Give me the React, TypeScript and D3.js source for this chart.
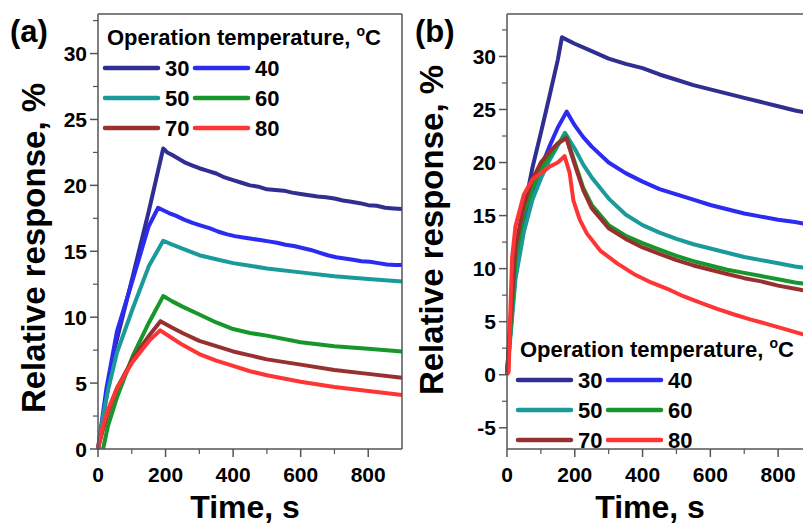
import React, { useEffect, useRef } from 'react';
import * as d3 from 'd3';

// temperatures (°C) shown in the legend
const temps = ['30', '40', '50', '60', '70', '80'];
const colors = ['#2f2f91', '#2b2bf2', '#1b9a9a', '#17962c', '#983030', '#ff3535'];

// panel (a): [time s, relative response %]
const a30 = [[0, 0], [25, 4.0], [50, 7.7], [100, 12.8], [150, 18.0], [193, 22.8], [205, 22.5], [220, 22.3], [240, 22.0], [260, 21.7], [280, 21.5], [300, 21.3], [325, 21.1], [350, 20.9], [375, 20.6], [400, 20.4], [425, 20.2], [450, 20.0], [475, 19.9], [500, 19.7], [525, 19.65], [550, 19.6], [575, 19.45], [600, 19.35], [625, 19.25], [650, 19.15], [675, 19.1], [700, 19.0], [725, 18.85], [750, 18.75], [775, 18.65], [800, 18.5], [825, 18.45], [850, 18.3], [875, 18.25], [900, 18.2]];
const a40 = [[0, 0], [25, 4.6], [56, 8.9], [100, 12.6], [150, 16.9], [178, 18.3], [190, 18.15], [210, 17.9], [230, 17.7], [255, 17.4], [280, 17.15], [305, 16.95], [330, 16.75], [355, 16.5], [380, 16.3], [405, 16.15], [430, 16.05], [455, 15.95], [480, 15.85], [505, 15.75], [530, 15.65], [555, 15.5], [580, 15.4], [605, 15.25], [630, 15.1], [655, 14.9], [680, 14.7], [705, 14.55], [730, 14.45], [755, 14.35], [780, 14.25], [805, 14.2], [830, 14.1], [855, 14.0], [880, 13.95], [900, 13.95]];
const a50 = [[0, 0], [15, 2.5], [30, 4.5], [56, 7.3], [102, 10.6], [151, 13.9], [193, 15.8], [220, 15.5], [250, 15.2], [300, 14.7], [350, 14.4], [400, 14.1], [450, 13.9], [500, 13.7], [600, 13.4], [700, 13.1], [800, 12.9], [900, 12.7]];
const a60 = [[15, 0], [30, 1.8], [56, 3.9], [102, 7.0], [151, 9.6], [193, 11.6], [220, 11.2], [250, 10.8], [300, 10.2], [350, 9.6], [400, 9.1], [450, 8.8], [500, 8.6], [600, 8.1], [700, 7.8], [800, 7.6], [900, 7.4]];
const a70 = [[0, 0], [15, 1.5], [30, 2.8], [56, 4.6], [102, 6.8], [151, 8.6], [185, 9.7], [220, 9.2], [250, 8.8], [300, 8.2], [350, 7.8], [400, 7.4], [450, 7.1], [500, 6.8], [600, 6.4], [700, 6.0], [800, 5.7], [900, 5.4]];
const a80 = [[0, 0], [15, 1.8], [30, 3.0], [56, 4.6], [102, 6.6], [151, 8.2], [184, 9.0], [220, 8.4], [250, 7.9], [300, 7.2], [350, 6.7], [400, 6.3], [450, 5.9], [500, 5.6], [600, 5.1], [700, 4.7], [800, 4.4], [900, 4.1]];

// panel (b)
const b30 = [[0, 0], [10, 5.0], [25, 10.5], [50, 15.5], [75, 19.5], [100, 22.8], [125, 26.2], [150, 29.7], [162, 31.8], [200, 31.2], [250, 30.5], [300, 29.8], [350, 29.3], [400, 28.9], [450, 28.3], [500, 27.8], [550, 27.3], [600, 26.9], [650, 26.5], [700, 26.1], [750, 25.7], [800, 25.3], [850, 24.9], [900, 24.6]];
const b40 = [[0, 0], [10, 4.0], [25, 9.5], [50, 14.0], [75, 17.0], [100, 19.5], [125, 21.5], [150, 23.3], [176, 24.8], [200, 23.5], [225, 22.4], [250, 21.5], [300, 20.0], [350, 19.0], [400, 18.2], [450, 17.5], [500, 17.0], [550, 16.5], [600, 16.0], [650, 15.6], [700, 15.2], [750, 14.9], [800, 14.6], [850, 14.4], [900, 14.1]];
const b50 = [[0, 0], [10, 3.5], [25, 9.0], [50, 13.5], [75, 16.5], [100, 18.5], [125, 20.2], [150, 21.6], [171, 22.8], [200, 21.3], [225, 19.8], [250, 18.6], [300, 16.6], [350, 15.1], [400, 14.1], [450, 13.4], [500, 12.8], [550, 12.3], [600, 11.9], [650, 11.5], [700, 11.1], [750, 10.8], [800, 10.5], [850, 10.2], [900, 10.0]];
const b60 = [[0, 0], [10, 4.0], [25, 11.0], [50, 15.2], [75, 17.6], [100, 19.3], [125, 20.6], [150, 21.8], [175, 22.5], [200, 20.0], [225, 17.6], [250, 16.0], [300, 14.1], [350, 13.1], [400, 12.4], [450, 11.8], [500, 11.2], [550, 10.7], [600, 10.3], [650, 9.9], [700, 9.6], [750, 9.3], [800, 9.0], [850, 8.7], [900, 8.5]];
const b70 = [[0, 0], [10, 5.0], [25, 12.0], [50, 16.0], [75, 18.4], [100, 20.0], [125, 21.0], [150, 21.8], [175, 22.3], [200, 19.8], [225, 17.4], [250, 15.7], [300, 13.8], [350, 12.8], [400, 12.0], [450, 11.4], [500, 10.8], [550, 10.3], [600, 9.9], [650, 9.5], [700, 9.1], [750, 8.8], [800, 8.4], [850, 8.1], [900, 7.8]];
const b80 = [[0, 0], [5, 0.3], [10, 6.0], [15, 11.0], [25, 14.0], [50, 17.0], [75, 18.4], [100, 19.0], [125, 19.6], [150, 20.0], [170, 20.6], [185, 19.0], [196, 16.4], [215, 14.6], [236, 13.3], [275, 11.7], [325, 10.5], [374, 9.5], [425, 8.7], [473, 8.1], [520, 7.4], [570, 6.8], [620, 6.2], [668, 5.7], [720, 5.2], [766, 4.8], [820, 4.3], [874, 3.8], [900, 3.6]];

const seriesA = [a30, a40, a50, a60, a70, a80];
const seriesB = [b30, b40, b50, b60, b70, b80];

const xTicks = [0, 200, 400, 600, 800];
const xMinor = [100, 300, 500, 700];
const yTicksA = [0, 5, 10, 15, 20, 25, 30];
const yTicksB = [-5, 0, 5, 10, 15, 20, 25, 30];

const FONT = '"Liberation Sans", Arial, sans-serif';

const App = () => {
  const ref = useRef<SVGSVGElement | null>(null);

  useEffect(() => {
    const svg = d3.select(ref.current);
    svg.selectAll('*').remove();

    const panel = (
      opt: { left: number; right: number; top: number; bottom: number; yDomain: [number, number]; yTicks: number[]; label: string; labelX: number; ylabX: number; ylabY: number; legX: number; legY: number; showRight: boolean },
      series: number[][][]
    ) => {
      const x = d3.scaleLinear().domain([0, 900]).range([opt.left, opt.right]);
      const y = d3.scaleLinear().domain(opt.yDomain).range([opt.bottom, opt.top]);
      const g = svg.append('g');

      // curves
      const line = d3.line<number[]>().x(d => x(d[0])).y(d => y(d[1]));
      series.forEach((s, i) => {
        g.append('path')
          .datum(s)
          .attr('fill', 'none')
          .attr('stroke', colors[i])
          .attr('stroke-width', 4)
          .attr('stroke-linejoin', 'round')
          .attr('d', line);
      });

      // frame
      const frame = '#555';
      g.append('line').attr('x1', opt.left).attr('x2', opt.left).attr('y1', opt.top).attr('y2', opt.bottom).attr('stroke', frame).attr('stroke-width', 1.5);
      g.append('line').attr('x1', opt.left).attr('x2', opt.right).attr('y1', opt.bottom).attr('y2', opt.bottom).attr('stroke', frame).attr('stroke-width', 1.5);
      g.append('line').attr('x1', opt.left).attr('x2', opt.right).attr('y1', opt.top).attr('y2', opt.top).attr('stroke', frame).attr('stroke-width', 1.5);
      if (opt.showRight) {
        g.append('line').attr('x1', opt.right).attr('x2', opt.right).attr('y1', opt.top).attr('y2', opt.bottom).attr('stroke', frame).attr('stroke-width', 1.5);
      }

      // y ticks
      const yMinor: number[] = [];
      for (let v = opt.yDomain[0]; v <= opt.yDomain[1]; v += 0.5) {
        if (Math.abs(v % 5) === 2.5) yMinor.push(v);
      }
      yMinor.forEach(v => {
        g.append('line').attr('x1', opt.left - 5).attr('x2', opt.left).attr('y1', y(v)).attr('y2', y(v)).attr('stroke', frame).attr('stroke-width', 1.2);
      });
      opt.yTicks.forEach(v => {
        g.append('line').attr('x1', opt.left - 8).attr('x2', opt.left).attr('y1', y(v)).attr('y2', y(v)).attr('stroke', frame).attr('stroke-width', 1.5);
        g.append('text')
          .attr('x', opt.left - 11)
          .attr('y', y(v) + 7.5)
          .attr('text-anchor', 'end')
          .style('font-family', FONT)
          .style('font-size', '21px')
          .style('font-weight', 'bold')
          .text(String(v));
      });

      // x ticks
      xMinor.forEach(v => {
        g.append('line').attr('x1', x(v)).attr('x2', x(v)).attr('y1', opt.bottom).attr('y2', opt.bottom + 5).attr('stroke', frame).attr('stroke-width', 1.2);
      });
      xTicks.forEach(v => {
        g.append('line').attr('x1', x(v)).attr('x2', x(v)).attr('y1', opt.bottom).attr('y2', opt.bottom + 8).attr('stroke', frame).attr('stroke-width', 1.5);
        g.append('text')
          .attr('x', x(v))
          .attr('y', opt.bottom + 33)
          .attr('text-anchor', 'middle')
          .style('font-family', FONT)
          .style('font-size', '21px')
          .style('font-weight', 'bold')
          .text(String(v));
      });

      // axis titles
      g.append('text')
        .attr('x', (opt.left + Math.min(opt.right, 803)) / 2 - 5)
        .attr('y', 518)
        .attr('text-anchor', 'middle')
        .style('font-family', FONT)
        .style('font-size', '32px')
        .style('font-weight', 'bold')
        .text('Time, s');
      g.append('text')
        .attr('transform', `translate(${opt.ylabX},${opt.ylabY}) rotate(-90)`)
        .attr('text-anchor', 'middle')
        .style('font-family', FONT)
        .style('font-size', '33px')
        .style('font-weight', 'bold')
        .text('Relative response, %');

      // panel label
      g.append('text')
        .attr('x', opt.labelX)
        .attr('y', 42)
        .style('font-family', FONT)
        .style('font-size', '31px')
        .style('font-weight', 'bold')
        .text(opt.label);

      // legend
      const leg = g.append('g').attr('transform', `translate(${opt.legX},${opt.legY})`);
      const title = leg.append('text')
        .attr('x', 2)
        .attr('y', 0)
        .style('font-family', FONT)
        .style('font-size', '22px')
        .style('font-weight', 'bold');
      title.append('tspan').text('Operation temperature, ');
      title.append('tspan').attr('dy', -9).style('font-size', '14px').text('o');
      title.append('tspan').attr('dy', 9).text('C');

      temps.forEach((t, i) => {
        const col = i % 2;
        const row = Math.floor(i / 2);
        const lx = col * 90;
        const ly = 23 + row * 30;
        leg.append('line')
          .attr('x1', lx).attr('x2', lx + 53)
          .attr('y1', ly).attr('y2', ly)
          .attr('stroke', colors[i])
          .attr('stroke-width', 4.5)
          .attr('stroke-linecap', 'round');
        leg.append('text')
          .attr('x', lx + 60)
          .attr('y', ly + 7.5)
          .style('font-family', FONT)
          .style('font-size', '22px')
          .style('font-weight', 'bold')
          .text(t);
      });
    };

    panel({ left: 98, right: 402, top: 14, bottom: 449, yDomain: [0, 33], yTicks: yTicksA, label: '(a)', labelX: 10, ylabX: 45, ylabY: 248, legX: 105, legY: 45, showRight: true }, seriesA);
    panel({ left: 507, right: 812, top: 14, bottom: 449, yDomain: [-7, 34], yTicks: yTicksB, label: '(b)', labelX: 415, ylabX: 443, ylabY: 230, legX: 518, legY: 357, showRight: false }, seriesB);
  }, []);

  return (
    <svg
      ref={ref}
      width={803}
      height={526}
      style={{ position: 'absolute', left: 0, top: 0, background: '#fff' }}
    />
  );
};

export default App;
